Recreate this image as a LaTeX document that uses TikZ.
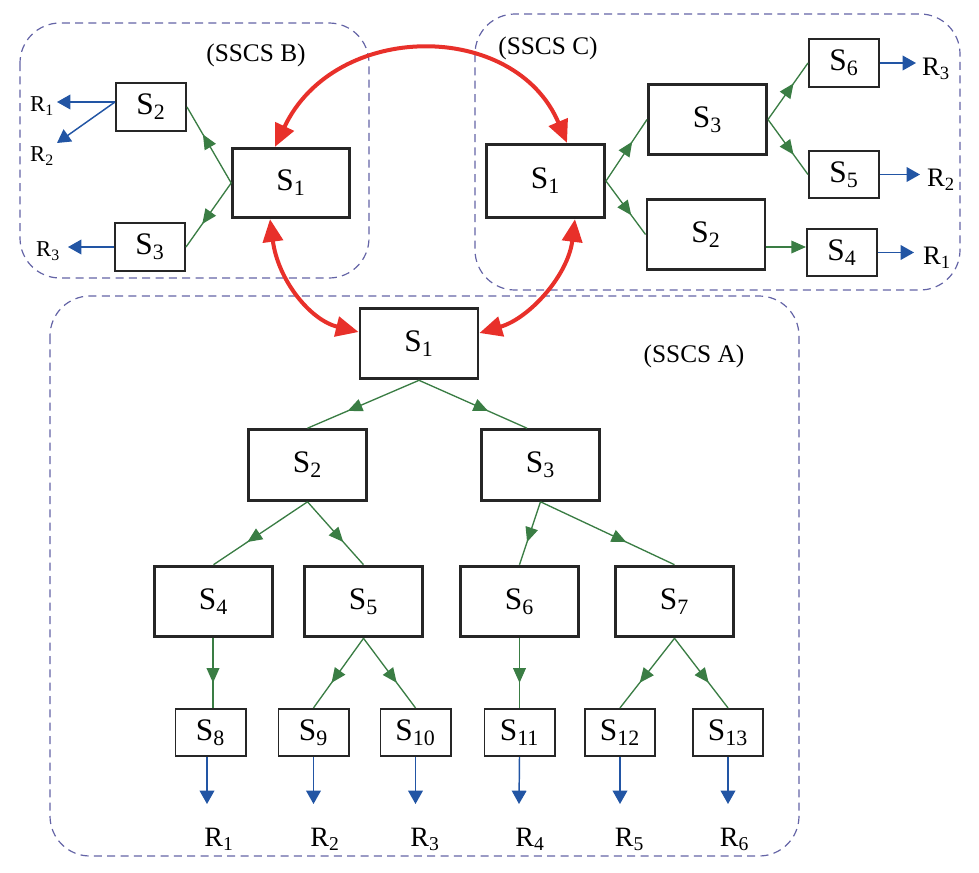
\documentclass[tikz,border=0pt]{standalone}
\usepackage{fontspec}
\setmainfont{Liberation Serif}
\usetikzlibrary{arrows.meta,decorations.markings,calc}
\definecolor{gr}{HTML}{3A7D44}
\definecolor{bl}{HTML}{2255A4}
\definecolor{rd}{HTML}{E8302A}
\definecolor{pn}{HTML}{6464A6}
\begin{document}
\begin{tikzpicture}[x=0.75pt,y=-0.75pt,
  bigbox/.style={draw=black!85, line width=2.2pt, minimum width=88.5pt, minimum height=53pt, inner sep=0pt, font=\fontsize{23.5}{23.5}\selectfont},
  smallbox/.style={draw=black!85, line width=1.4pt, minimum width=52.6pt, minimum height=35.5pt, inner sep=0pt, font=\fontsize{23.5}{23.5}\selectfont},
  panel/.style={draw=pn, line width=0.9pt, dash pattern=on 6pt off 4pt, rounded corners=30pt},
  lab/.style={inner sep=0pt, font=\fontsize{19}{19}\selectfont},
  rlab/.style={inner sep=0pt, font=\fontsize{21}{21}\selectfont},
  rlabc/.style={inner sep=0pt, font=\fontsize{20}{20}\selectfont},
  rlabs/.style={inner sep=0pt, font=\fontsize{17}{17}\selectfont},
  gline/.style={draw=gr, line width=1pt, postaction={decorate},
    decoration={markings, mark=at position 0.64 with {\arrow{Triangle[length=11pt,width=9.5pt]}}}},
  gend/.style={draw=gr, line width=1pt, -{Triangle[length=11pt,width=9.5pt]}},
  bline/.style={draw=bl, line width=1.1pt, -{Triangle[length=10pt,width=11pt]}},
  redarr/.style={draw=rd, line width=3pt, {Triangle[length=17pt,width=15pt]}-{Triangle[length=17pt,width=15pt]}}
]
\useasboundingbox (0,0) rectangle (979,872);

% panels
\draw[panel] (20,23) rectangle (369,278);
\draw[panel] (475,14) rectangle (960,290);
\draw[panel] (50,296) rectangle (799,856);

\node[lab] (LB) at (256,55) {(SSCS B)};
\node[lab] (LC) at (548,48) {(SSCS C)};
\node[lab] (LA) at (694,356) {(SSCS A)};

% panel A
\node[bigbox] (A1) at (419,343.5) {S\textsubscript{1}};
\node[bigbox] (A2) at (307.5,465) {S\textsubscript{2}};
\node[bigbox] (A3) at (540.5,465) {S\textsubscript{3}};
\node[bigbox] (A4) at (213.5,601.5) {S\textsubscript{4}};
\node[bigbox] (A5) at (363.5,601.5) {S\textsubscript{5}};
\node[bigbox] (A6) at (519.5,601.5) {S\textsubscript{6}};
\node[bigbox] (A7) at (674.5,601.5) {S\textsubscript{7}};
\node[smallbox] (A8) at (210.5,732.5) {S\textsubscript{8}};
\node[smallbox] (A9) at (313.5,732.5) {S\textsubscript{9}};
\node[smallbox] (A10) at (415.5,732.5) {S\textsubscript{10}};
\node[smallbox] (A11) at (519.5,732.5) {S\textsubscript{11}};
\node[smallbox] (A12) at (620,732.5) {S\textsubscript{12}};
\node[smallbox] (A13) at (728,732.5) {S\textsubscript{13}};

\draw[gline] (A1.south) -- (A2.north);
\draw[gline] (A1.south) -- ($(A3.north)+(-13.5,0)$);
\draw[gline] (A2.south) -- (A4.north);
\draw[gline] (A2.south) -- (A5.north);
\draw[gline] (A3.south) -- (A6.north);
\draw[gline] (A3.south) -- (A7.north);
\draw[gline] ($(A4.south)+(-0.5,0)$) -- ($(A8.north)+(2.5,0)$);
\draw[gline] (A5.south) -- (A9.north);
\draw[gline] (A5.south) -- (A10.north);
\draw[gline] (A6.south) -- (A11.north);
\draw[gline] (A7.south) -- (A12.north);
\draw[gline] (A7.south) -- (A13.north);

\coordinate (t8) at (207,804);
\coordinate (t9) at (313.5,804);
\coordinate (t10) at (415.5,804);
\coordinate (t11) at (519,804);
\coordinate (t12) at (620,804);
\coordinate (t13) at (728,804);
\draw[bline] ($(A8.south)+(-3.5,0)$) -- (t8);
\draw[bline] (A9.south) -- (t9);
\draw[bline] (A10.south) -- (t10);
\draw[bline] (A11.south) -- (t11);
\draw[bline] (A12.south) -- (t12);
\draw[bline] (A13.south) -- (t13);

\node[rlab, anchor=base] (R1) at (219,846) {R\textsubscript{1}};
\node[rlab, anchor=base] (R2) at (325,846) {R\textsubscript{2}};
\node[rlab, anchor=base] (R3) at (425,846) {R\textsubscript{3}};
\node[rlab, anchor=base] (R4) at (530,846) {R\textsubscript{4}};
\node[rlab, anchor=base] (R5) at (629.5,846) {R\textsubscript{5}};
\node[rlab, anchor=base] (R6) at (734.5,846) {R\textsubscript{6}};

% panel B
\node[smallbox] (B2) at (151,107) {S\textsubscript{2}};
\node[bigbox, minimum width=87.5pt, minimum height=52pt] (B1) at (291,183) {S\textsubscript{1}};
\node[smallbox] (B3) at (150,247) {S\textsubscript{3}};
\draw[gline] (B1.west) -- (B2.east);
\draw[gline] (B1.west) -- (B3.east);
\coordinate (b1) at (57,102);
\coordinate (b2) at (57,143);
\coordinate (b3) at (68,247);
\draw[bline] ($(B2.west)+(0,-5)$) -- (b1);
\draw[bline] ($(B2.west)+(0,-5)$) -- (b2);
\draw[bline] (B3.west) -- (b3);
\node[rlabs] (BR1) at (42,106) {R\textsubscript{1}};
\node[rlabs] (BR2) at (42,156) {R\textsubscript{2}};
\node[rlabs] (BR3) at (48,251) {R\textsubscript{3}};

% panel C
\node[bigbox, minimum height=55pt] (C1) at (545.5,181) {S\textsubscript{1}};
\node[bigbox] (C3) at (707.5,119.5) {S\textsubscript{3}};
\node[bigbox] (C2) at (706,234.5) {S\textsubscript{2}};
\node[smallbox] (C6) at (844,63) {S\textsubscript{6}};
\node[smallbox] (C5) at (844,174.5) {S\textsubscript{5}};
\node[smallbox] (C4) at (842,252.5) {S\textsubscript{4}};
\draw[gline] (C1.east) -- (C3.west);
\draw[gline] (C1.east) -- (C2.west);
\draw[gline] (C3.east) -- (C6.west);
\draw[gline] (C3.east) -- (C5.west);
\draw[gend] ($(C2.east)+(0,12.5)$) -- ($(C4.west)+(0,-5.5)$);
\coordinate (c3) at (916,63);
\coordinate (c2) at (920,174.5);
\coordinate (c1) at (914,252.5);
\draw[bline] (C6.east) -- (c3);
\draw[bline] (C5.east) -- (c2);
\draw[bline] (C4.east) -- (c1);
\node[rlabc] (CR3) at (936,69) {R\textsubscript{3}};
\node[rlabc] (CR2) at (941,180) {R\textsubscript{2}};
\node[rlabc] (CR1) at (937,258) {R\textsubscript{1}};

% red links
\draw[redarr] ($(B1.north)+(-16,0)$) .. controls (335,20) and (515,20) .. ($(C1.north)+(21.5,0)$);
\draw[redarr] ($(B1.south)+(-21,0)$) .. controls (278,280) and (310,320) .. ($(A1.west)+(0,-11.5)$);
\draw[redarr] ($(C1.south)+(29.5,0)$) .. controls (568,275) and (530,318) .. ($(A1.east)+(0,-10.5)$);
\end{tikzpicture}
\end{document}
